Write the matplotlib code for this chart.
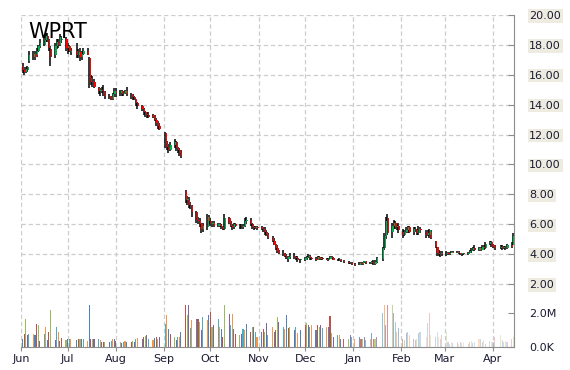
import numpy as np
import pandas as pd
import matplotlib
matplotlib.use('Agg')
import matplotlib.pyplot as plt
import matplotlib.dates as mdates
from matplotlib.patches import Rectangle

################################################################################
# Daily data, Jun 2014 .. Apr 2015 (one row of values per month)
holidays = ['2014-07-04', '2014-09-01', '2014-11-27', '2014-12-25',
	'2015-01-01', '2015-01-19', '2015-02-16', '2015-04-03']
dates = pd.bdate_range('2014-06-02', '2015-04-14', freq='C', holidays=holidays)

opens = [
	16.6,16.3,16.2,16.3,16.9,17.2,17.4,17.3,17.6,17.9,18.0,18.3,18.6,18.3,17.7,17.3,17.9,18.2,18.0,18.3,18.4,
	17.8,17.9,17.5,17.6,17.3,17.5,17.2,17.4,17.6,17.1,15.8,15.6,15.5,15.1,14.9,15.0,14.9,14.7,14.6,14.5,14.4,14.7,
	14.9,14.8,14.9,14.7,14.8,14.9,14.7,14.6,14.5,14.4,14.1,13.9,13.7,13.5,13.4,13.3,13.3,13.2,13.0,12.8,12.6,
	12.1,11.4,11.2,11.0,11.3,11.5,11.1,11.0,10.8,8.2,7.6,7.6,7.3,7.2,6.8,6.3,6.2,6.0,5.7,5.8,6.5,
	6.2,6.0,6.1,5.9,6.0,5.9,5.8,5.7,6.4,6.1,5.9,5.8,6.0,5.9,5.9,5.8,5.9,6.2,6.3,6.0,5.82,5.76,5.84,
	5.8,5.7,5.6,5.5,5.3,5.1,4.9,4.6,4.4,4.2,4.1,4.0,3.9,3.7,3.8,3.9,3.82,3.76,3.62,
	3.62,3.74,3.82,3.90,3.72,3.68,3.62,3.80,3.70,3.76,3.68,3.62,3.70,3.82,3.74,3.64,3.60,3.66,3.54,3.50,3.40,3.44,
	3.36,3.30,3.40,3.34,3.45,3.52,3.40,3.46,3.38,3.34,3.50,3.65,4.40,5.20,6.40,5.50,5.90,6.10,5.80,5.90,
	5.5,5.3,5.5,5.6,5.8,5.5,5.7,5.6,5.4,5.7,5.5,5.3,5.3,5.5,4.9,4.5,4.1,4.0,4.1,
	4.0,4.1,4.0,4.1,4.15,4.1,4.15,4.05,4.0,4.05,4.0,4.1,4.2,4.3,4.4,4.3,4.4,4.3,4.5,4.4,4.7,4.8,
	4.6,4.5,4.4,4.5,4.4,4.5,4.4,4.6,4.6]
highs = [
	16.8,16.5,16.5,16.6,17.6,17.6,17.6,17.8,18.0,18.4,18.5,18.8,18.8,18.4,17.9,18.1,18.4,18.4,18.7,18.6,18.5,
	18.1,18.0,17.8,18.1,17.7,17.8,17.6,17.8,17.8,17.2,16.0,15.9,15.7,15.2,15.1,15.2,15.3,14.9,14.7,14.6,14.8,15.1,
	15.1,15.0,15.0,14.9,15.0,15.2,14.8,14.7,14.6,14.4,14.2,14.0,13.8,13.6,13.5,13.5,13.4,13.3,13.1,12.9,12.8,
	12.2,11.6,11.4,11.5,11.7,11.6,11.2,11.1,11.0,8.3,7.9,7.8,7.5,7.3,6.9,6.5,6.4,6.1,6.1,6.7,6.6,
	6.4,6.2,6.2,6.1,6.1,6.0,5.9,6.7,6.5,6.2,6.0,6.1,6.1,6.0,6.0,6.0,6.4,6.5,6.4,6.1,5.9,5.9,5.9,
	5.9,5.8,5.8,5.6,5.4,5.2,5.1,4.7,4.6,4.3,4.3,4.1,4.0,3.9,4.1,4.1,3.9,3.9,3.7,
	3.80,3.90,4.00,3.92,3.80,3.78,3.90,3.88,3.82,3.80,3.76,3.74,3.90,3.88,3.78,3.70,3.72,3.68,3.58,3.54,3.50,3.48,
	3.40,3.45,3.50,3.50,3.56,3.55,3.50,3.55,3.60,3.60,3.80,4.50,5.40,6.50,6.70,6.10,6.30,6.20,6.00,6.10,
	5.7,5.6,5.8,5.9,5.9,5.8,5.8,5.7,5.9,5.8,5.6,5.6,5.7,5.6,4.9,4.5,4.3,4.2,4.2,
	4.2,4.15,4.15,4.2,4.2,4.2,4.2,4.1,4.1,4.1,4.15,4.25,4.4,4.5,4.6,4.5,4.5,4.6,4.6,4.8,4.9,4.85,
	4.7,4.6,4.6,4.6,4.55,4.55,4.65,4.8,5.4]
lows = [
	16.1,16.0,16.1,16.2,16.8,17.0,17.0,17.2,17.5,17.8,17.9,18.2,18.2,17.6,16.6,17.1,17.7,17.8,17.9,18.1,17.6,
	17.4,17.5,17.3,17.1,17.1,16.9,17.0,17.3,17.3,15.1,15.3,15.2,15.1,14.7,14.6,14.8,14.6,14.4,14.4,14.3,14.3,14.5,
	14.5,14.6,14.6,14.6,14.7,14.6,14.4,14.3,14.3,13.9,13.7,13.6,13.3,13.2,13.1,13.1,13.1,12.9,12.6,12.4,12.3,
	11.1,11.0,10.8,10.9,11.1,10.9,10.8,10.6,10.4,7.4,7.3,7.1,7.0,6.5,6.1,6.0,5.8,5.4,5.5,5.6,6.0,
	5.9,5.8,5.8,5.8,5.8,5.7,5.6,5.6,6.0,5.8,5.6,5.7,5.8,5.7,5.7,5.7,5.8,6.0,5.9,5.7,5.6,5.7,5.6,
	5.6,5.5,5.3,5.2,5.0,4.8,4.6,4.3,4.1,4.0,3.9,3.8,3.7,3.5,3.7,3.7,3.6,3.5,3.4,
	3.55,3.64,3.72,3.62,3.58,3.55,3.60,3.62,3.62,3.60,3.58,3.55,3.66,3.70,3.60,3.55,3.52,3.45,3.42,3.34,3.32,3.30,
	3.22,3.25,3.30,3.30,3.40,3.35,3.35,3.34,3.30,3.30,3.42,3.55,4.30,5.00,5.30,5.10,5.70,5.70,5.60,5.40,
	5.1,5.2,5.4,5.4,5.4,5.3,5.5,5.3,5.3,5.4,5.1,5.2,5.1,5.0,4.4,3.9,3.9,3.8,3.9,
	3.9,3.95,3.95,4.05,4.05,4.05,4.0,3.95,3.9,3.95,3.95,4.05,4.1,4.2,4.2,4.2,4.2,4.25,4.3,4.35,4.6,4.5,
	4.4,4.3,4.35,4.3,4.35,4.3,4.35,4.4,4.6]
closes = [
	16.3,16.2,16.4,16.5,17.3,17.4,17.2,17.6,17.9,18.1,18.3,18.6,18.4,17.8,17.2,17.9,18.2,18.0,18.5,18.4,17.8,
	17.9,17.6,17.6,17.3,17.5,17.2,17.4,17.6,17.3,15.8,15.5,15.5,15.2,14.9,15.0,14.9,14.7,14.6,14.5,14.4,14.7,14.9,
	14.8,14.9,14.7,14.8,14.9,14.7,14.6,14.5,14.4,14.1,13.9,13.7,13.5,13.4,13.3,13.2,13.2,13.0,12.8,12.6,12.4,
	11.4,11.2,11.0,11.3,11.5,11.1,11.0,10.8,10.6,7.6,7.7,7.3,7.2,6.8,6.3,6.2,6.0,5.7,5.9,6.5,6.2,
	6.0,6.1,5.9,6.0,5.9,5.8,5.7,6.4,6.1,5.9,5.8,6.0,5.9,5.86,5.8,5.9,6.2,6.3,6.0,5.8,5.76,5.84,5.72,
	5.7,5.6,5.5,5.3,5.1,4.9,4.6,4.4,4.2,4.1,4.0,3.9,3.8,3.8,3.9,3.8,3.76,3.62,3.68,
	3.74,3.82,3.90,3.72,3.66,3.62,3.80,3.70,3.76,3.68,3.62,3.70,3.82,3.74,3.64,3.60,3.66,3.54,3.50,3.40,3.44,3.36,
	3.30,3.40,3.34,3.45,3.52,3.40,3.46,3.38,3.34,3.50,3.72,4.40,5.20,6.20,5.40,5.90,6.10,5.80,5.90,5.60,
	5.3,5.5,5.6,5.8,5.5,5.7,5.6,5.4,5.7,5.6,5.3,5.4,5.6,5.1,4.5,4.1,4.0,4.1,4.0,
	4.1,4.0,4.1,4.15,4.1,4.15,4.05,4.0,4.05,4.0,4.1,4.2,4.3,4.4,4.3,4.4,4.3,4.5,4.4,4.7,4.8,4.6,
	4.5,4.4,4.5,4.4,4.5,4.4,4.6,4.5,5.2]
# volume in millions
volumes = [
	0.49,0.78,1.67,0.69,0.78,0.78,0.69,1.37,1.27,0.35,0.78,1.18,0.39,0.88,2.20,0.40,1.18,0.88,0.35,0.55,0.43,
	0.45,0.50,0.45,0.40,0.50,0.45,0.50,0.45,0.35,2.45,0.45,0.45,0.50,0.45,0.40,0.30,0.30,0.28,0.30,0.35,0.50,0.45,
	0.35,0.30,0.25,0.30,0.35,0.30,0.30,0.35,0.30,0.50,0.55,0.45,0.60,0.65,0.70,0.50,0.40,0.55,0.60,0.50,0.60,
	1.37,1.86,1.08,0.78,0.60,0.40,0.60,0.60,0.90,2.45,1.86,2.45,1.10,1.57,1.67,1.67,1.47,0.98,1.76,1.57,1.86,
	2.06,1.18,1.27,1.67,1.18,1.08,0.60,2.45,1.96,1.27,1.96,1.08,0.78,0.69,0.78,1.08,0.98,1.37,0.88,1.18,1.18,0.88,0.60,
	0.88,1.08,0.90,1.40,0.70,1.18,0.90,1.00,1.76,1.47,1.18,1.08,1.86,1.10,1.20,1.00,1.20,0.80,1.00,
	1.30,1.40,1.30,1.20,1.30,1.00,1.30,1.20,1.30,1.10,1.20,1.20,1.80,0.80,0.60,0.70,0.70,0.50,0.50,0.50,0.70,0.60,
	0.50,0.60,0.50,0.50,0.60,0.40,0.50,0.80,0.50,0.50,0.60,2.00,2.50,1.30,2.50,2.50,2.00,1.50,0.90,1.10,
	0.50,0.40,0.80,0.90,0.70,0.50,0.40,0.50,0.80,0.90,0.60,1.40,2.00,0.70,0.60,0.90,0.60,0.50,0.70,
	0.90,0.30,0.20,0.30,0.25,0.30,0.20,0.30,0.25,0.30,0.20,0.30,0.35,0.25,0.30,0.50,0.45,0.30,0.40,0.20,0.35,0.30,
	0.30,0.60,0.70,0.40,0.30,0.35,0.30,0.50,0.60]

price_ticks = [2, 4, 6, 8, 10, 12, 14, 16, 18, 20]
vol_ticks = [0, 2]
vol_labels = ['0.0K', '2.0M']
ticker = 'WPRT'

################################################################################
x = mdates.date2num(dates)
up_col = '#00B050'
dn_col = '#FF0000'
bar_cols = ['#4F81BD', '#C0504D', '#9BBB59', '#8064A2', '#4BACC6', '#F79646']
grid_kw = dict(color='#CDCDCD', linestyle=(0, (3.5, 2.2)), linewidth=0.9)
txt_col = '#1A1A33'
axis_col = '#8C8C8C'

fig = plt.figure(figsize=(5.7, 3.7), dpi=100)
axP = fig.add_axes([21/570, (370-299)/370, 493/570, 284/370])
axV = fig.add_axes([21/570, (370-347)/370, 493/570, 48/370], sharex=axP)

# candles: black wick, coloured body beside it
bw = 0.8
for xi, o, h, l, c in zip(x, opens, highs, lows, closes):
	axP.vlines(xi, l, h, color='black', linewidth=1.1, zorder=3)
	col = up_col if c >= o else dn_col
	axP.add_patch(Rectangle((xi + 0.2, min(o, c)), bw, max(abs(c - o), 0.04),
		facecolor=col, edgecolor='none', zorder=4))

# volume, colours fade toward the right edge
fade_start = mdates.date2num(pd.Timestamp('2014-12-20'))
fade_end = mdates.date2num(pd.Timestamp('2015-02-20'))
for i, (xi, v) in enumerate(zip(x, volumes)):
	a = np.clip(1 - 0.7*(xi - fade_start)/(fade_end - fade_start), 0.3, 1.0)
	axV.bar(xi, v, width=0.7, color=bar_cols[i % len(bar_cols)], alpha=a,
		linewidth=0, zorder=3)

months = pd.date_range('2014-06-01', '2015-04-01', freq='MS')
x0 = mdates.date2num(pd.Timestamp('2014-06-01'))
axP.set_xlim(x0, x0 + 493/1.5526)
axP.set_ylim(1.0, 20.0)
axV.set_ylim(0, 48/17)

for ax in (axP, axV):
	for s in ['left', 'top', 'bottom']:
		ax.spines[s].set_visible(False)
	ax.spines['right'].set_color(axis_col)
	ax.yaxis.tick_right()
	ax.tick_params(axis='y', direction='in', length=4, color=axis_col,
		labelsize=8, labelcolor=txt_col, pad=11)
	ax.set_xticks(mdates.date2num(months))
	ax.xaxis.grid(True, **grid_kw)
	ax.set_axisbelow(True)
axV.spines['bottom'].set_visible(True)
axV.spines['bottom'].set_color(axis_col)

axP.set_yticks(price_ticks)
axP.set_yticklabels(['%.2f' % t for t in price_ticks])
for lbl in axP.get_yticklabels():
	lbl.set_bbox(dict(boxstyle='square,pad=0.15', facecolor='#EEECE1', edgecolor='none'))
axP.yaxis.grid(True, **grid_kw)
axP.tick_params(axis='x', length=0, labelbottom=False)

axV.set_yticks(vol_ticks)
axV.set_yticklabels(vol_labels)
axV.xaxis.set_major_formatter(mdates.DateFormatter('%b'))
axV.tick_params(axis='x', direction='out', length=3, color=axis_col,
	labelsize=8, labelcolor=txt_col, pad=2)

axP.text(28/570, (370-22)/370, ticker, transform=fig.transFigure, fontsize=15,
	color='black', ha='left', va='top', zorder=10)

fig.savefig('out.png', dpi=100)
